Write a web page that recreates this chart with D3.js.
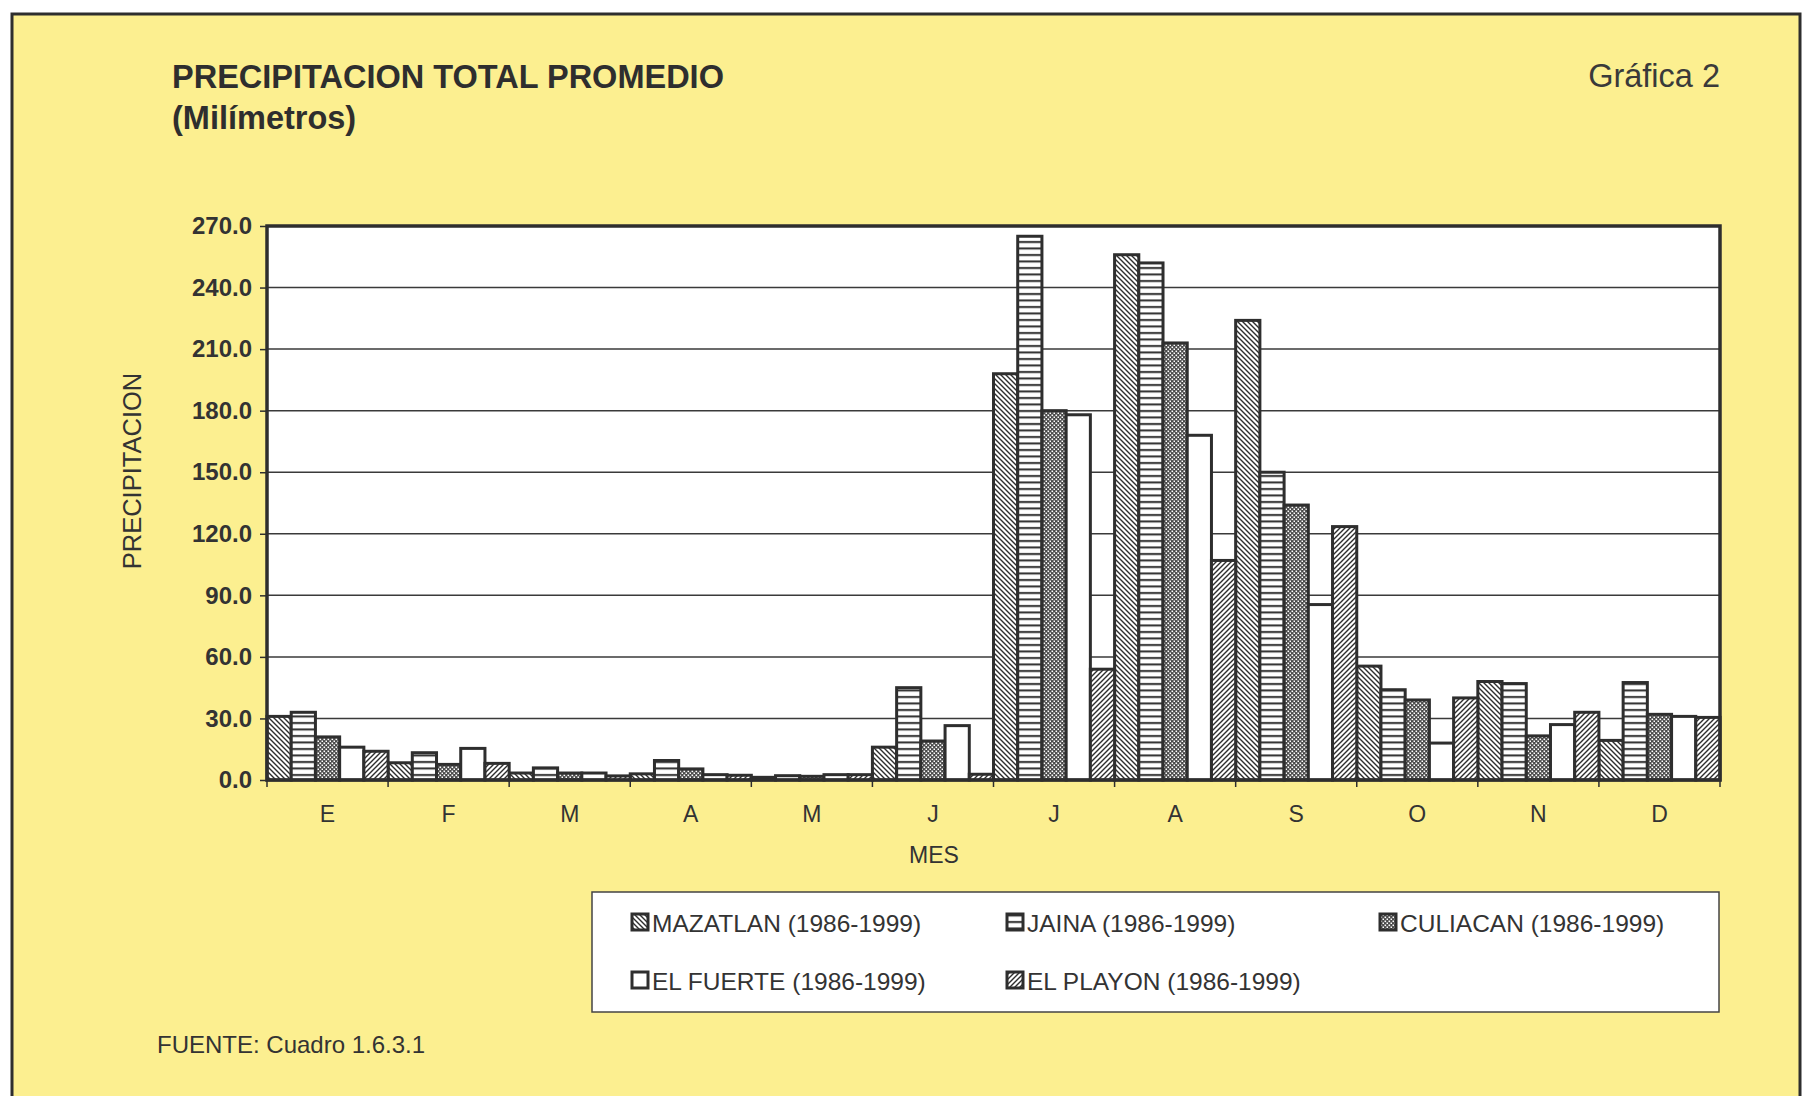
<!DOCTYPE html>
<html>
<head>
<meta charset="utf-8">
<script src="https://cdn.jsdelivr.net/npm/d3@7"></script>
<style>
  body { margin: 0; background: #fff; }
  svg { display: block; font-family: "Liberation Sans", Arial, sans-serif; }
</style>
</head>
<body>
<svg id="chart" width="1802" height="1096"></svg>
<script>
// month labels (index based, since some letters repeat)
var months = ["E", "F", "M", "A", "M", "J", "J", "A", "S", "O", "N", "D"];
var stations = ["MAZATLAN (1986-1999)", "JAINA (1986-1999)", "CULIACAN (1986-1999)",
                "EL FUERTE (1986-1999)", "EL PLAYON (1986-1999)"];

var mazatlan = [31, 8.4, 3.4, 3, 1.3, 16, 198, 256, 224, 55.5, 48, 19.3];
var jaina    = [33, 13.3, 5.9, 9.5, 2.1, 45, 265, 252, 150, 44, 47, 47.5];
var culiacan = [21, 7.6, 3.4, 5.4, 1.8, 19, 180, 213, 134, 39, 21.5, 32];
var elFuerte = [16, 15.4, 3.4, 2.6, 2.6, 26.5, 178, 168, 85.5, 18, 27, 31];
var elPlayon = [14, 8.1, 2, 2.3, 2.6, 2.8, 54, 107, 123.5, 40, 33, 30.5];

var yTicks = [0, 30, 60, 90, 120, 150, 180, 210, 240, 270];

var series = [mazatlan, jaina, culiacan, elFuerte, elPlayon];
var fills = ["url(#pMaz)", "url(#pJai)", "url(#pCul)", "#fff", "url(#pPla)"];

var ink = "#2e2e2e";
var paper = "#fcef90";

var svg = d3.select("#chart");

// patterns
var defs = svg.append("defs");

var pm = defs.append("pattern").attr("id", "pMaz").attr("patternUnits", "userSpaceOnUse")
    .attr("width", 5).attr("height", 5);
pm.append("rect").attr("width", 5).attr("height", 5).attr("fill", "#fff");
pm.append("path").attr("d", "M0,0L5,5M-1,4L1,6M4,-1L6,1")
    .attr("stroke", ink).attr("stroke-width", 1.4);

var pp = defs.append("pattern").attr("id", "pPla").attr("patternUnits", "userSpaceOnUse")
    .attr("width", 5).attr("height", 5);
pp.append("rect").attr("width", 5).attr("height", 5).attr("fill", "#fff");
pp.append("path").attr("d", "M0,5L5,0M-1,1L1,-1M4,6L6,4")
    .attr("stroke", ink).attr("stroke-width", 1.4);

var pj = defs.append("pattern").attr("id", "pJai").attr("patternUnits", "userSpaceOnUse")
    .attr("width", 8).attr("height", 6.5);
pj.append("rect").attr("width", 8).attr("height", 6.5).attr("fill", "#fff");
pj.append("rect").attr("y", 2).attr("width", 8).attr("height", 2).attr("fill", ink);

var pc = defs.append("pattern").attr("id", "pCul").attr("patternUnits", "userSpaceOnUse")
    .attr("width", 4).attr("height", 4);
pc.append("rect").attr("width", 4).attr("height", 4).attr("fill", "#4a4a4a");
pc.append("rect").attr("x", 0.5).attr("y", 0.5).attr("width", 1.6).attr("height", 1.6).attr("fill", "#fff");
pc.append("rect").attr("x", 2.5).attr("y", 2.5).attr("width", 1.6).attr("height", 1.6).attr("fill", "#fff");

// page
svg.append("rect").attr("x", 12).attr("y", 14).attr("width", 1788).attr("height", 1100)
    .attr("fill", paper).attr("stroke", ink).attr("stroke-width", 3);

svg.append("text").attr("x", 172).attr("y", 88)
    .attr("font-size", 32.5).attr("font-weight", "bold").attr("fill", ink)
    .text("PRECIPITACION TOTAL PROMEDIO");
svg.append("text").attr("x", 172).attr("y", 129)
    .attr("font-size", 32.5).attr("font-weight", "bold").attr("fill", ink)
    .text("(Milímetros)");
svg.append("text").attr("x", 1720).attr("y", 87).attr("text-anchor", "end")
    .attr("font-size", 32.5).attr("fill", "#3a3a3a")
    .text("Gráfica 2");

var margin = {top: 226, left: 267, right: 82, bottom: 316},
    width = 1802 - margin.left - margin.right,
    height = 1096 - margin.top - margin.bottom;

var x = d3.scaleBand().domain(d3.range(months.length)).range([0, width]).padding(0);
var xs = d3.scaleBand().domain(d3.range(series.length)).range([0, x.bandwidth()]).padding(0);
var y = d3.scaleLinear().domain([0, 270]).range([height, 0]);

var g = svg.append("g").attr("transform", "translate(" + margin.left + "," + margin.top + ")");

g.append("rect").attr("width", width).attr("height", height).attr("fill", "#fff");

// gridlines
g.selectAll(".grid").data(yTicks.slice(1, -1)).enter().append("line")
    .attr("x1", 0).attr("x2", width)
    .attr("y1", function(d) { return y(d); }).attr("y2", function(d) { return y(d); })
    .attr("stroke", "#3a3a3a").attr("stroke-width", 1.5);

// bars
series.forEach(function(vals, s) {
  g.append("g").selectAll("rect").data(vals).enter().append("rect")
      .attr("x", function(d, i) { return x(i) + xs(s); })
      .attr("y", function(d) { return y(d); })
      .attr("width", xs.bandwidth())
      .attr("height", function(d) { return height - y(d); })
      .attr("fill", fills[s])
      .attr("stroke", ink).attr("stroke-width", 3);
});

// frame
g.append("rect").attr("width", width).attr("height", height)
    .attr("fill", "none").attr("stroke", ink).attr("stroke-width", 3.5);

// y axis
var yAxis = g.append("g")
    .call(d3.axisLeft(y).tickValues(yTicks).tickSize(7).tickPadding(8)
      .tickFormat(d3.format(".1f")));
yAxis.select(".domain").remove();
yAxis.selectAll("line").attr("stroke", ink).attr("stroke-width", 1.5);
yAxis.selectAll("text").attr("font-size", 24).attr("font-weight", "bold")
    .attr("fill", "#333").attr("font-family", "Liberation Sans, Arial, sans-serif");

// x axis: ticks at month boundaries, labels centered
var xTickPos = d3.range(months.length + 1).map(function(i) { return i * x.step(); });
g.selectAll(".xt").data(xTickPos).enter().append("line")
    .attr("x1", function(d) { return d; }).attr("x2", function(d) { return d; })
    .attr("y1", height).attr("y2", height + 7)
    .attr("stroke", ink).attr("stroke-width", 1.5);

var xAxis = g.append("g").attr("transform", "translate(0," + height + ")")
    .call(d3.axisBottom(x).tickSize(0).tickPadding(26)
      .tickFormat(function(i) { return months[i]; }));
xAxis.select(".domain").remove();
xAxis.selectAll("text").attr("font-size", 23).attr("fill", "#333")
    .attr("font-family", "Liberation Sans, Arial, sans-serif");

g.append("text").attr("x", 667).attr("y", height + 83)
    .attr("text-anchor", "middle").attr("font-size", 23).attr("fill", "#333")
    .text("MES");

svg.append("text")
    .attr("transform", "translate(141,471) rotate(-90)")
    .attr("text-anchor", "middle").attr("font-size", 25.5).attr("fill", "#333")
    .text("PRECIPITACION");

// legend
var lg = svg.append("g").attr("transform", "translate(592,892)");
lg.append("rect").attr("width", 1127).attr("height", 120)
    .attr("fill", "#fff").attr("stroke", "#444").attr("stroke-width", 1.5);

var legPos = [[40, 40], [415, 40], [788, 40], [40, 98], [415, 98]];
stations.forEach(function(name, s) {
  var it = lg.append("g").attr("transform", "translate(" + legPos[s][0] + "," + legPos[s][1] + ")");
  it.append("rect").attr("x", 0).attr("y", -18).attr("width", 16).attr("height", 16)
      .attr("fill", fills[s]).attr("stroke", ink).attr("stroke-width", 3);
  it.append("text").attr("x", 20).attr("y", 0)
      .attr("font-size", 24.5).attr("fill", "#333").text(name);
});

svg.append("text").attr("x", 157).attr("y", 1053)
    .attr("font-size", 24).attr("fill", "#333")
    .text("FUENTE: Cuadro 1.6.3.1");
</script>
</body>
</html>
